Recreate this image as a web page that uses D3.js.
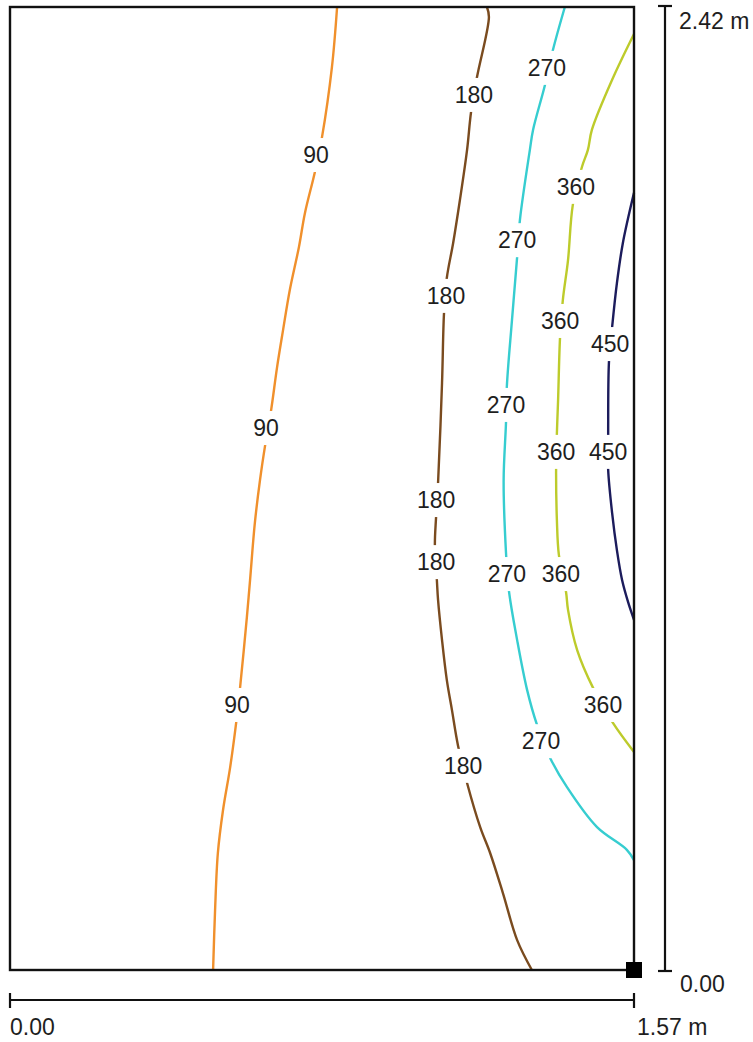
<!DOCTYPE html>
<html>
<head>
<meta charset="utf-8">
<script src="https://cdn.jsdelivr.net/npm/d3@7"></script>
<style>
  html, body { margin: 0; padding: 0; background: #fff; }
  svg { display: block; }
  text { font-family: "Liberation Sans", Arial, sans-serif; }
</style>
</head>
<body>
<svg id="chart" width="753" height="1042"></svg>
<script>
// ---- data (metres) ----
const widthM = 1.57;
const heightM = 2.42;
const levels = [90, 180, 270, 360, 450];
const levelColors = ["#f0902c", "#7a4b1f", "#36cdd0", "#bdcb2b", "#1c1c5c"];

const line90 = [[0.823,2.420],[0.810,2.269],[0.785,2.093],[0.767,2.005],[0.742,1.902],[0.727,1.817],[0.704,1.709],[0.687,1.608],[0.672,1.515],[0.657,1.407],[0.642,1.319],[0.629,1.231],[0.616,1.123],[0.604,0.980],[0.596,0.887],[0.579,0.711],[0.569,0.621],[0.554,0.510],[0.536,0.402],[0.523,0.294],[0.516,0.151],[0.511,0.000]];
const line180 = [[1.200,2.420],[1.205,2.395],[1.175,2.244],[1.160,2.156],[1.150,2.061],[1.132,1.935],[1.115,1.827],[1.099,1.739],[1.092,1.651],[1.087,1.475],[1.077,1.224],[1.072,1.138],[1.069,1.068],[1.074,0.980],[1.077,0.930],[1.087,0.829],[1.099,0.729],[1.112,0.653],[1.127,0.565],[1.150,0.470],[1.183,0.359],[1.208,0.294],[1.240,0.194],[1.276,0.075],[1.313,0.000]];
const line270 = [[1.396,2.420],[1.366,2.312],[1.346,2.224],[1.316,2.111],[1.308,2.061],[1.283,1.885],[1.276,1.792],[1.263,1.633],[1.250,1.465],[1.248,1.377],[1.242,1.231],[1.248,1.048],[1.255,0.955],[1.276,0.829],[1.301,0.704],[1.326,0.616],[1.359,0.533],[1.401,0.460],[1.477,0.359],[1.552,0.302],[1.570,0.276]];
const line360 = [[1.570,2.352],[1.515,2.237],[1.464,2.111],[1.454,2.061],[1.439,2.018],[1.416,1.922],[1.404,1.784],[1.391,1.684],[1.384,1.591],[1.379,1.432],[1.376,1.349],[1.374,1.257],[1.376,1.131],[1.381,1.043],[1.399,0.950],[1.404,0.905],[1.427,0.804],[1.467,0.709],[1.517,0.621],[1.570,0.548]];
const line450 = [[1.570,1.953],[1.542,1.827],[1.527,1.726],[1.515,1.616],[1.507,1.528],[1.505,1.339],[1.505,1.257],[1.515,1.148],[1.527,1.055],[1.540,0.980],[1.555,0.925],[1.570,0.880]];
const contourLines = [line90, line180, line270, line360, line450];

const labels90  = [[0.770,2.048],[0.644,1.362],[0.571,0.666]];
const labels180 = [[1.167,2.199],[1.097,1.694],[1.072,1.181],[1.072,1.025],[1.140,0.513]];
const labels270 = [[1.351,2.267],[1.276,1.834],[1.248,1.420],[1.250,0.995],[1.336,0.575]];
const labels360 = [[1.424,1.968],[1.384,1.631],[1.374,1.302],[1.386,0.995],[1.492,0.666]];
const labels450 = [[1.510,1.573],[1.505,1.302]];
const contourLabels = [labels90, labels180, labels270, labels360, labels450];

const xTickValues = [0, 1.57];
const xTickLabels = ["0.00", "1.57 m"];
const yTickValues = [0, 2.42];
const yTickLabels = ["0.00", "2.42 m"];
const markerPoint = [1.57, 0];

// ---- drawing ----
const svg = d3.select("#chart");
const x = d3.scaleLinear().domain([0, widthM]).range([10, 634]);
const y = d3.scaleLinear().domain([0, heightM]).range([970, 7]);

const line = d3.line().x(d => x(d[0])).y(d => y(d[1])).curve(d3.curveCatmullRom.alpha(0.5));

const gLines = svg.append("g");
contourLines.forEach((pts, i) => {
  gLines.append("path")
    .attr("d", line(pts))
    .attr("fill", "none")
    .attr("stroke", levelColors[i])
    .attr("stroke-width", 2.4)
    .attr("stroke-linejoin", "round");
});

// labels with white knockouts
const gLab = svg.append("g");
contourLabels.forEach((pts, i) => {
  pts.forEach(p => {
    const cx = x(p[0]), cy = y(p[1]);
    gLab.append("rect")
      .attr("x", cx - 21).attr("y", cy - 17)
      .attr("width", 42).attr("height", 34)
      .attr("fill", "#fff");
    gLab.append("text")
      .attr("x", cx).attr("y", cy + 8)
      .attr("text-anchor", "middle")
      .attr("font-size", 23)
      .attr("fill", "#1e1e1e")
      .text(levels[i]);
  });
});

// frame
svg.append("rect")
  .attr("x", x(0)).attr("y", y(heightM))
  .attr("width", x(widthM) - x(0)).attr("height", y(0) - y(heightM))
  .attr("fill", "none").attr("stroke", "#111").attr("stroke-width", 2.4);

// marker
svg.append("rect")
  .attr("x", x(markerPoint[0]) - 8).attr("y", y(markerPoint[1]) - 8)
  .attr("width", 16).attr("height", 16).attr("fill", "#000");

// right (vertical) dimension axis
const ax = 665;
const gY = svg.append("g").attr("stroke", "#111").attr("stroke-width", 2.2);
gY.append("line").attr("x1", ax).attr("x2", ax).attr("y1", y(heightM) - 1).attr("y2", y(0) + 1);
yTickValues.forEach(v => {
  gY.append("line").attr("x1", ax - 7).attr("x2", ax + 7).attr("y1", y(v) + (v === 0 ? 1 : -1)).attr("y2", y(v) + (v === 0 ? 1 : -1));
});
svg.append("text").attr("x", 679).attr("y", y(yTickValues[1]) + 22)
  .attr("font-size", 23).attr("fill", "#1e1e1e").text(yTickLabels[1]);
svg.append("text").attr("x", 680).attr("y", y(yTickValues[0]) + 22)
  .attr("font-size", 23).attr("fill", "#1e1e1e").text(yTickLabels[0]);

// bottom (horizontal) dimension axis
const ay = 1000;
const gX = svg.append("g").attr("stroke", "#111").attr("stroke-width", 2.2);
gX.append("line").attr("x1", x(0)).attr("x2", x(widthM)).attr("y1", ay).attr("y2", ay);
xTickValues.forEach(v => {
  gX.append("line").attr("x1", x(v)).attr("x2", x(v)).attr("y1", ay - 7).attr("y2", ay + 8);
});
svg.append("text").attr("x", x(xTickValues[0])).attr("y", 1035)
  .attr("font-size", 23).attr("fill", "#1e1e1e").text(xTickLabels[0]);
svg.append("text").attr("x", x(xTickValues[1]) + 3).attr("y", 1035)
  .attr("font-size", 23).attr("fill", "#1e1e1e").text(xTickLabels[1]);
</script>
</body>
</html>
